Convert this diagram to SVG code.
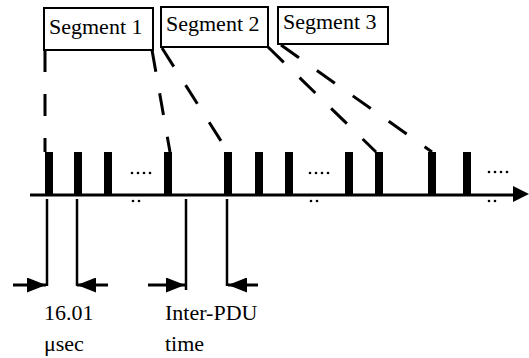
<svg xmlns="http://www.w3.org/2000/svg" width="529" height="358" viewBox="0 0 529 358">
  <style>
    .box { fill: #fff; stroke: #000; stroke-width: 2; }
    .lbl { font-family: "Liberation Serif", "Times New Roman", serif; font-size: 22px; fill: #000; }
    .dash { stroke: #000; stroke-width: 3; stroke-dasharray: 22 22; fill: none; }
    .bar { fill: #000; }
    .tick { stroke: #000; stroke-width: 2.5; }
    .dim { stroke: #000; stroke-width: 3; marker-end: url(#head); }
    .dot { fill: #000; }
  </style>
  <defs>
    <marker id="head" viewBox="0 0 19 15" refX="19" refY="7.5" markerWidth="19" markerHeight="15" markerUnits="userSpaceOnUse" orient="auto">
      <path d="M0,0 L19,7.5 L0,15 Z" fill="#000"/>
    </marker>
  </defs>

  <!-- segment boxes -->
  <g id="segment1">
    <rect class="box" x="44" y="8" width="109" height="42"/>
    <text class="lbl" x="49" y="34">Segment 1</text>
  </g>
  <g id="segment2">
    <rect class="box" x="161" y="7" width="107" height="40"/>
    <text class="lbl" x="166" y="31">Segment 2</text>
  </g>
  <g id="segment3">
    <rect class="box" x="278" y="7" width="110" height="37"/>
    <text class="lbl" x="283" y="29">Segment 3</text>
  </g>

  <!-- dashed mapping lines from segments to pulses -->
  <g id="connectors">
    <line class="dash" x1="45" y1="50" x2="45" y2="152"/>
    <line class="dash" x1="152" y1="50" x2="170" y2="152"/>
    <line class="dash" x1="162" y1="48" x2="228" y2="152"/>
    <line class="dash" x1="268" y1="47" x2="376" y2="152"/>
    <line class="dash" x1="281" y1="45" x2="432" y2="152"/>
  </g>

  <!-- time axis with pulses -->
  <g id="timeline">
    <line x1="30" y1="195" x2="515" y2="195" stroke="#000" stroke-width="3"/>
    <path d="M513,186 L529,194 L513,202 Z" fill="#000"/>
    <rect class="bar" x="45" y="152" width="8" height="43"/>
    <rect class="bar" x="74" y="152" width="8" height="43"/>
    <rect class="bar" x="104" y="152" width="8" height="43"/>
    <rect class="bar" x="164" y="152" width="8" height="43"/>
    <rect class="bar" x="224" y="152" width="8" height="43"/>
    <rect class="bar" x="255" y="152" width="8" height="43"/>
    <rect class="bar" x="285" y="152" width="8" height="43"/>
    <rect class="bar" x="345" y="152" width="8" height="43"/>
    <rect class="bar" x="375" y="152" width="8" height="43"/>
    <rect class="bar" x="428" y="152" width="8" height="43"/>
    <rect class="bar" x="463" y="152" width="8" height="43"/>
    <!-- ellipsis marks -->
    <g class="dot">
      <circle cx="132" cy="173" r="1.3"/><circle cx="138" cy="173" r="1.3"/><circle cx="144" cy="173" r="1.3"/><circle cx="150" cy="173" r="1.3"/>
      <circle cx="133" cy="201" r="1.3"/><circle cx="139" cy="201" r="1.3"/>
      <circle cx="310" cy="173" r="1.3"/><circle cx="316" cy="173" r="1.3"/><circle cx="322" cy="173" r="1.3"/><circle cx="328" cy="173" r="1.3"/>
      <circle cx="311" cy="201" r="1.3"/><circle cx="317" cy="201" r="1.3"/>
      <circle cx="489" cy="172" r="1.3"/><circle cx="495" cy="172" r="1.3"/><circle cx="501" cy="172" r="1.3"/><circle cx="507" cy="172" r="1.3"/>
      <circle cx="489" cy="201" r="1.3"/><circle cx="495" cy="201" r="1.3"/>
    </g>
  </g>

  <!-- pulse width measurement -->
  <g id="pulse-width">
    <line class="tick" x1="47" y1="199" x2="47" y2="286"/>
    <line class="tick" x1="77" y1="199" x2="77" y2="286"/>
    <line class="dim" x1="13" y1="285" x2="46" y2="285"/>
    <line class="dim" x1="108" y1="285" x2="77" y2="285"/>
    <text class="lbl" x="44" y="320">16.01</text>
    <text class="lbl" x="44" y="351">μsec</text>
  </g>

  <!-- inter-PDU gap measurement -->
  <g id="inter-pdu">
    <line class="tick" x1="186" y1="199" x2="186" y2="290"/>
    <line class="tick" x1="227" y1="199" x2="227" y2="286"/>
    <line class="dim" x1="148" y1="285" x2="185" y2="285"/>
    <line class="dim" x1="258" y1="285" x2="228" y2="285"/>
    <text class="lbl" x="165" y="320">Inter-PDU</text>
    <text class="lbl" x="165" y="351">time</text>
  </g>
</svg>
